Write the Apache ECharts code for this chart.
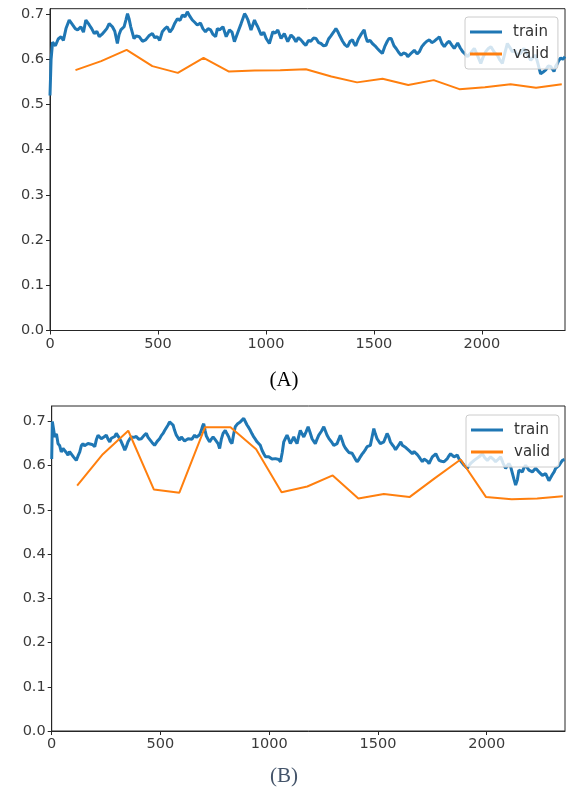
<!DOCTYPE html>
<html>
<head>
<meta charset="utf-8">
<script src="https://cdn.jsdelivr.net/npm/echarts@6/dist/echarts.min.js"></script>
<style>
html,body{margin:0;padding:0;background:#fff;}
#chart{width:568px;height:795px;}
</style>
</head>
<body>
<div id="chart"></div>
<script>
// ---- tick labels ----
const xTicks = [0, 500, 1000, 1500, 2000];
const yTicks = [0, 0.1, 0.2, 0.3, 0.4, 0.5, 0.6, 0.7];
const seriesNames = ['train', 'valid'];
const captions = ['(A)', '(B)'];

// ---- Chart A ----
const trainAX = [0,5,12,25,38,51,62,74,89,105,117,128,143,155,166,182,193,205,217,228,240,251,263,274,289,300,312,320,328,343,352,359,366,374,389,400,413,428,443,458,474,485,497,508,520,532,543,555,567,578,590,602,613,625,636,648,659,670,682,697,708,720,732,744,755,767,775,785,801,816,831,843,854,870,885,893,901,909,916,931,947,955,962,978,990,1001,1016,1032,1043,1055,1070,1085,1101,1116,1128,1139,1150,1162,1174,1185,1197,1208,1220,1232,1244,1255,1267,1278,1290,1301,1313,1324,1332,1339,1355,1366,1378,1390,1401,1408,1416,1428,1439,1447,1455,1462,1470,1482,1493,1505,1516,1528,1539,1550,1562,1570,1580,1593,1603,1615,1626,1637,1649,1657,1664,1676,1687,1700,1711,1722,1734,1745,1757,1768,1780,1792,1803,1815,1826,1838,1849,1860,1872,1880,1888,1900,1911,1922,1934,1950,1965,1980,1995,2006,2018,2030,2042,2057,2072,2084,2095,2107,2118,2130,2141,2152,2164,2180,2195,2210,2226,2237,2249,2260,2272,2284,2295,2307,2319,2327,2334,2342,2349,2357,2365,2375,2385];
const trainAY = [0.520,0.600,0.638,0.630,0.645,0.650,0.642,0.668,0.687,0.676,0.668,0.665,0.672,0.660,0.687,0.676,0.668,0.657,0.662,0.650,0.655,0.661,0.668,0.679,0.672,0.662,0.635,0.655,0.665,0.672,0.688,0.701,0.690,0.672,0.646,0.652,0.650,0.640,0.643,0.652,0.657,0.648,0.650,0.642,0.661,0.668,0.672,0.660,0.668,0.680,0.690,0.686,0.698,0.694,0.705,0.695,0.687,0.682,0.676,0.680,0.668,0.661,0.668,0.665,0.655,0.650,0.668,0.665,0.672,0.650,0.665,0.660,0.639,0.660,0.679,0.690,0.701,0.695,0.688,0.665,0.687,0.678,0.672,0.654,0.660,0.646,0.635,0.661,0.658,0.665,0.646,0.657,0.639,0.654,0.648,0.639,0.648,0.643,0.636,0.631,0.642,0.640,0.647,0.646,0.637,0.635,0.630,0.631,0.645,0.652,0.660,0.668,0.662,0.655,0.640,0.632,0.628,0.640,0.643,0.635,0.630,0.645,0.654,0.660,0.665,0.650,0.639,0.642,0.635,0.630,0.624,0.618,0.613,0.628,0.640,0.646,0.646,0.630,0.624,0.615,0.609,0.614,0.612,0.606,0.606,0.615,0.620,0.612,0.617,0.628,0.635,0.640,0.643,0.637,0.640,0.645,0.650,0.635,0.628,0.636,0.640,0.632,0.624,0.630,0.636,0.625,0.617,0.612,0.606,0.615,0.624,0.608,0.591,0.605,0.617,0.624,0.628,0.616,0.609,0.598,0.591,0.615,0.635,0.626,0.617,0.620,0.609,0.614,0.624,0.612,0.598,0.604,0.609,0.590,0.568,0.572,0.576,0.585,0.584,0.578,0.573,0.585,0.590,0.598,0.603,0.600,0.606];
const validAX = [118,237,355,474,592,711,829,948,1066,1185,1303,1422,1540,1659,1777,1896,2014,2133,2251,2370];
const validAY = [0.576,0.596,0.621,0.585,0.570,0.603,0.573,0.575,0.576,0.578,0.562,0.549,0.557,0.543,0.554,0.534,0.538,0.545,0.537,0.545];

// ---- Chart B ----
const trainBX = [0,3,8,14,22,29,37,44,52,60,67,75,82,90,100,113,121,129,136,144,151,159,167,175,186,198,206,213,221,228,240,251,259,267,274,282,290,297,309,320,328,336,343,351,358,366,378,389,400,412,424,435,443,451,462,473,485,496,504,512,520,527,535,542,550,558,565,573,580,588,596,604,611,619,627,634,645,657,665,673,680,688,694,699,705,711,719,726,734,742,750,757,765,772,780,788,798,806,814,821,829,836,844,855,867,875,883,890,898,906,913,921,929,936,944,952,959,967,975,983,990,998,1005,1013,1021,1029,1036,1044,1052,1060,1067,1075,1082,1090,1097,1105,1113,1120,1128,1135,1143,1151,1159,1169,1179,1188,1197,1205,1212,1220,1228,1240,1251,1259,1266,1274,1281,1289,1297,1304,1312,1320,1327,1335,1343,1350,1358,1366,1373,1381,1389,1396,1404,1412,1419,1427,1435,1443,1450,1458,1465,1473,1481,1488,1496,1504,1511,1519,1527,1535,1542,1550,1557,1565,1573,1581,1589,1597,1605,1612,1620,1628,1635,1646,1658,1666,1674,1681,1689,1697,1704,1712,1720,1727,1735,1742,1750,1758,1766,1773,1781,1792,1804,1811,1819,1826,1834,1842,1850,1857,1865,1872,1880,1888,1896,1903,1911,1918,1926,1934,1942,1953,1965,1973,1980,1991,2003,2010,2018,2030,2041,2052,2064,2075,2087,2095,2102,2110,2118,2125,2133,2141,2148,2156,2164,2171,2179,2187,2194,2202,2210,2217,2225,2233,2240,2248,2256,2263,2271,2279,2286,2294,2302,2310,2317,2325,2332,2340,2348,2358];
const trainBY = [0.615,0.700,0.684,0.665,0.672,0.650,0.645,0.631,0.639,0.639,0.630,0.624,0.632,0.631,0.620,0.612,0.622,0.631,0.645,0.650,0.645,0.643,0.650,0.654,0.648,0.643,0.660,0.669,0.665,0.661,0.665,0.669,0.660,0.654,0.662,0.660,0.666,0.673,0.664,0.654,0.645,0.635,0.643,0.654,0.660,0.665,0.664,0.666,0.660,0.661,0.668,0.673,0.664,0.661,0.652,0.646,0.655,0.661,0.668,0.673,0.680,0.684,0.692,0.699,0.696,0.692,0.680,0.669,0.665,0.658,0.665,0.663,0.656,0.654,0.661,0.663,0.660,0.669,0.664,0.662,0.670,0.680,0.690,0.695,0.680,0.667,0.660,0.654,0.660,0.665,0.660,0.662,0.650,0.639,0.660,0.673,0.680,0.672,0.665,0.655,0.650,0.670,0.688,0.695,0.699,0.703,0.707,0.700,0.692,0.686,0.680,0.672,0.665,0.660,0.654,0.650,0.646,0.635,0.627,0.620,0.616,0.620,0.624,0.615,0.612,0.616,0.620,0.614,0.609,0.630,0.654,0.662,0.669,0.660,0.650,0.657,0.665,0.657,0.650,0.665,0.680,0.672,0.665,0.676,0.688,0.675,0.661,0.655,0.650,0.660,0.669,0.678,0.688,0.678,0.669,0.662,0.658,0.652,0.646,0.650,0.650,0.660,0.669,0.658,0.646,0.640,0.635,0.630,0.631,0.628,0.624,0.615,0.609,0.614,0.620,0.626,0.631,0.637,0.643,0.645,0.646,0.665,0.684,0.672,0.661,0.657,0.650,0.654,0.654,0.664,0.673,0.665,0.654,0.648,0.643,0.636,0.640,0.648,0.654,0.646,0.643,0.641,0.639,0.633,0.627,0.632,0.631,0.625,0.620,0.614,0.609,0.615,0.616,0.610,0.605,0.612,0.620,0.624,0.627,0.620,0.612,0.610,0.609,0.612,0.616,0.622,0.627,0.624,0.620,0.620,0.624,0.616,0.612,0.606,0.601,0.597,0.594,0.600,0.605,0.609,0.612,0.616,0.620,0.624,0.627,0.618,0.612,0.616,0.620,0.615,0.609,0.614,0.620,0.606,0.594,0.600,0.605,0.598,0.594,0.570,0.556,0.568,0.590,0.588,0.586,0.595,0.601,0.597,0.590,0.588,0.586,0.590,0.594,0.590,0.586,0.582,0.578,0.580,0.582,0.578,0.566,0.570,0.580,0.586,0.594,0.598,0.600,0.606,0.612,0.614];
const validBX = [117,235,352,470,587,705,822,940,1057,1175,1292,1410,1527,1645,1762,1880,1997,2115,2232,2350];
const validBY = [0.555,0.626,0.679,0.546,0.539,0.687,0.687,0.637,0.540,0.553,0.578,0.526,0.536,0.529,0.572,0.614,0.529,0.524,0.526,0.531];

const xMaxA = 2385, yMaxA = 0.712;
const xMaxB = 2360, yMaxB = 0.735;

const pairs = (xs, ys) => xs.map((x, i) => [x, ys[i]]);
const BLUE = '#1f77b4', ORANGE = '#ff7f0e';
const AX = '#262626';
const tickFont = { fontFamily: 'DejaVu Sans', fontSize: 14.5, color: '#3a3a3a' };

function xAxisCfg(gi, max) {
  return {
    type: 'value', gridIndex: gi, min: 0, max: max, interval: 500,
    axisLine: { show: true, onZero: false, lineStyle: { color: AX, width: 1 } },
    axisTick: { show: true, length: 4, lineStyle: { color: AX }, customValues: xTicks },
    axisLabel: Object.assign({ margin: 6, customValues: xTicks, formatter: v => String(v) }, tickFont),
    splitLine: { show: false }
  };
}
function yAxisCfg(gi, max) {
  return {
    type: 'value', gridIndex: gi, min: 0, max: max, interval: 0.1,
    axisLine: { show: true, onZero: false, lineStyle: { color: AX, width: 1 } },
    axisTick: { show: true, length: 4, lineStyle: { color: AX }, customValues: yTicks },
    axisLabel: Object.assign({ margin: 6, customValues: yTicks, formatter: v => v.toFixed(1) }, tickFont),
    splitLine: { show: false }
  };
}
function legendCfg(left, top) {
  return {
    data: seriesNames, orient: 'vertical', left: left, top: top,
    icon: 'rect', itemWidth: 32, itemHeight: 3, itemGap: 4,
    padding: [6, 9, 6, 5],
    backgroundColor: 'rgba(255,255,255,0.8)', borderColor: '#cccccc', borderWidth: 1, borderRadius: 3,
    textStyle: { fontFamily: 'DejaVu Sans', fontSize: 15, lineHeight: 18, color: '#333333', padding: [0, 0, 0, 6] },
    selectedMode: false
  };
}

const chart = echarts.init(document.getElementById('chart'), null, { renderer: 'canvas' });
chart.setOption({
  animation: false,
  backgroundColor: '#ffffff',
  grid: [
    { left: 50, right: 3, top: 8.7, bottom: 795 - 330.5, show: true, borderColor: AX, borderWidth: 1 },
    { left: 51.7, right: 3, top: 406, bottom: 795 - 731, show: true, borderColor: AX, borderWidth: 1 }
  ],
  xAxis: [xAxisCfg(0, xMaxA), xAxisCfg(1, xMaxB)],
  yAxis: [yAxisCfg(0, yMaxA), yAxisCfg(1, yMaxB)],
  legend: [legendCfg(465, 17), legendCfg(466, 415)],
  series: [
    { name: 'train', type: 'line', xAxisIndex: 0, yAxisIndex: 0, data: pairs(trainAX, trainAY), showSymbol: false, symbol: 'none', lineStyle: { color: BLUE, width: 3 }, itemStyle: { color: BLUE } },
    { name: 'valid', type: 'line', xAxisIndex: 0, yAxisIndex: 0, data: pairs(validAX, validAY), showSymbol: false, symbol: 'none', lineStyle: { color: ORANGE, width: 2 }, itemStyle: { color: ORANGE } },
    { name: 'train', type: 'line', xAxisIndex: 1, yAxisIndex: 1, data: pairs(trainBX, trainBY), showSymbol: false, symbol: 'none', lineStyle: { color: BLUE, width: 3 }, itemStyle: { color: BLUE } },
    { name: 'valid', type: 'line', xAxisIndex: 1, yAxisIndex: 1, data: pairs(validBX, validBY), showSymbol: false, symbol: 'none', lineStyle: { color: ORANGE, width: 2 }, itemStyle: { color: ORANGE } }
  ],
  graphic: [
    { type: 'text', left: 'center', top: 370, style: { text: captions[0], font: '21px "Liberation Serif"', fill: '#000000' } },
    { type: 'text', left: 'center', top: 766, style: { text: captions[1], font: '21px "Liberation Serif"', fill: '#44546a' } }
  ]
});
</script>
</body>
</html>
